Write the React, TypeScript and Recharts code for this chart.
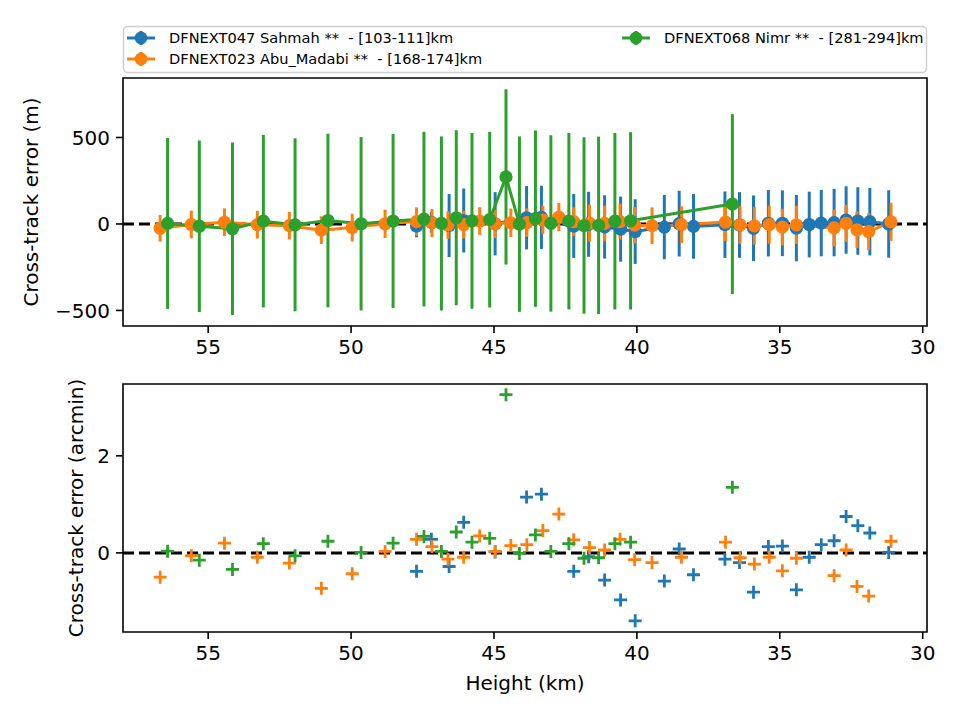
import React from 'react';
import {
  ComposedChart,
  Line,
  Scatter,
  XAxis,
  YAxis,
  ErrorBar,
  ReferenceLine,
  ReferenceArea,
} from 'recharts';

const BLUE = '#1f77b4';
const ORANGE = '#ff7f0e';
const GREEN = '#2ca02c';
const FONT = '"DejaVu Sans", sans-serif';

// ---- Sahmah (blue) ----
const sahmahHeight = [47.71, 47.19, 46.57, 46.06, 44.96, 43.86, 43.34, 42.21, 41.69, 41.13, 40.57, 40.06, 39.04, 38.52, 38.02, 36.92, 36.41, 35.92, 35.4, 34.91, 34.42, 33.97, 33.55, 33.1, 32.68, 32.27, 31.85, 31.19];
const sahmahMeters = [-12, 9, -9, 20, 1, 36, 38, -12, -2, -17, -30, -44, -18, 2, -14, -4, -6, -25, 4, 4, -24, -3, 5, 8, 23, 17, 13, 0];
const sahmahErr = [65, 60, 182, 185, 183, 183, 183, 185, 188, 183, 188, 187, 186, 190, 187, 192, 190, 190, 192, 190, 192, 190, 192, 195, 195, 195, 195, 195];
const sahmahArcmin = [-0.38, 0.28, -0.28, 0.63, 0.02, 1.15, 1.21, -0.38, -0.08, -0.56, -0.97, -1.4, -0.58, 0.08, -0.45, -0.13, -0.2, -0.81, 0.13, 0.14, -0.76, -0.09, 0.17, 0.25, 0.75, 0.56, 0.41, 0.01];

// ---- Abu_Madabi (orange) ----
const abuHeight = [56.68, 55.59, 54.43, 53.28, 52.16, 51.04, 49.96, 48.81, 47.71, 47.17, 46.61, 46.06, 45.5, 44.96, 44.41, 43.85, 43.29, 42.73, 42.21, 41.66, 41.13, 40.59, 40.08, 39.47, 38.44, 36.9, 36.39, 35.89, 35.37, 34.91, 34.42, 33.1, 32.68, 32.3, 31.89, 31.11];
const abuMeters = [-25, -3, 10, -4, -10, -36, -21, 1, 14, 6, -6, -4, 17, 1, 7, 8, 23, 40, 13, 5, 3, 14, -7, -10, -4, 11, -5, -11, -4, -18, -5, -23, 3, -34, -44, 12];
const abuErr = [77, 80, 80, 80, 80, 80, 80, 82, 82, 81, 80, 80, 80, 82, 82, 82, 82, 82, 83, 107, 103, 103, 105, 106, 106, 109, 110, 108, 110, 106, 110, 107, 107, 106, 107, 110];
const abuArcmin = [-0.5, -0.06, 0.2, -0.09, -0.21, -0.73, -0.43, 0.03, 0.28, 0.13, -0.13, -0.09, 0.35, 0.03, 0.15, 0.17, 0.46, 0.8, 0.27, 0.11, 0.06, 0.28, -0.14, -0.2, -0.09, 0.22, -0.1, -0.23, -0.09, -0.37, -0.11, -0.47, 0.06, -0.69, -0.89, 0.24];

// ---- Nimr (green) ----
const nimrHeight = [56.42, 55.31, 54.15, 53.07, 51.96, 50.81, 49.65, 48.53, 47.45, 46.84, 46.32, 45.77, 45.15, 44.58, 44.11, 43.55, 43.01, 42.38, 41.85, 41.34, 40.77, 40.22, 36.66];
const nimrMeters = [3, -13, -28, 16, -5, 20, 1, 17, 28, 3, 36, 18, 25, 272, -1, 31, 3, 16, -9, -8, 16, 18, 115];
const nimrErr = [494, 496, 499, 499, 500, 502, 501, 503, 505, 503, 506, 508, 508, 507, 507, 510, 510, 510, 510, 513, 510, 513, 520];
const nimrArcmin = [0.035, -0.15, -0.34, 0.19, -0.06, 0.24, 0.01, 0.2, 0.34, 0.03, 0.43, 0.22, 0.3, 3.26, -0.01, 0.37, 0.03, 0.19, -0.11, -0.1, 0.19, 0.22, 1.35];

// ---- axes ----
const heightDomain: [number, number] = [29.85, 57.98];
const heightTicks = [30, 35, 40, 45, 50, 55];
const meterDomain: [number, number] = [-590, 844];
const meterTicks = [-500, 0, 500];
const arcminDomain: [number, number] = [-1.63, 3.48];
const arcminTicks = [0, 2];

const legendLabels = [
  'DFNEXT047 Sahmah **  - [103-111]km',
  'DFNEXT023 Abu_Madabi **  - [168-174]km',
  'DFNEXT068 Nimr **  - [281-294]km',
];

const withErr = (h: number[], v: number[], e: number[]) =>
  h.map((x, i) => ({ h: x, v: v[i], e: e[i] }));
const plain = (h: number[], v: number[]) => h.map((x, i) => ({ h: x, v: v[i] }));

const sahmahTop = withErr(sahmahHeight, sahmahMeters, sahmahErr);
const abuTop = withErr(abuHeight, abuMeters, abuErr);
const nimrTop = withErr(nimrHeight, nimrMeters, nimrErr);
const sahmahBot = plain(sahmahHeight, sahmahArcmin);
const abuBot = plain(abuHeight, abuArcmin);
const nimrBot = plain(nimrHeight, nimrArcmin);

const fmt = (v: number) => (v < 0 ? '\u2212' + Math.abs(v) : String(v));

const tickStyle = { fill: '#000', fontSize: 20, fontFamily: FONT };
const tickLine = { stroke: '#000', strokeWidth: 1.6 };

const plusShape = (color: string) => (props: any) => {
  const { cx, cy } = props;
  if (cx == null || cy == null) return <g />;
  return (
    <path
      d={`M${cx - 6.5},${cy}H${cx + 6.5}M${cx},${cy - 6.5}V${cy + 6.5}`}
      stroke={color}
      strokeWidth={2.8}
      fill="none"
    />
  );
};

const series = [
  { top: sahmahTop, bot: sahmahBot, color: BLUE },
  { top: abuTop, bot: abuBot, color: ORANGE },
  { top: nimrTop, bot: nimrBot, color: GREEN },
];

export default function App() {
  return (
    <div style={{ position: 'absolute', left: 0, top: 0, width: 960, height: 720, background: '#fff', fontFamily: FONT }}>
      <div style={{ position: 'absolute', left: 0, top: 0 }}>
        <ComposedChart width={960} height={360} margin={{ top: 78, right: 33, bottom: 0, left: 0 }}>
          <XAxis
            dataKey="h"
            type="number"
            domain={heightDomain}
            ticks={heightTicks}
            reversed
            allowDataOverflow
            height={34}
            tick={tickStyle}
            tickLine={tickLine}
            tickSize={7}
            tickMargin={7}
            axisLine={false}
          />
          <YAxis
            type="number"
            domain={meterDomain}
            ticks={meterTicks}
            allowDataOverflow
            width={123}
            tick={tickStyle}
            tickLine={tickLine}
            tickSize={7}
            tickMargin={6}
            tickFormatter={fmt}
            axisLine={false}
          />
          <ReferenceLine y={0} stroke="#000" strokeWidth={3} strokeDasharray="11 5" />
          {series.map((s, i) => (
            <Line
              key={i}
              data={s.top}
              dataKey="v"
              type="linear"
              stroke={s.color}
              strokeWidth={3}
              dot={{ r: 6.6, fill: s.color, stroke: 'none' }}
              activeDot={false}
              isAnimationActive={false}
            >
              <ErrorBar dataKey="e" direction="y" width={0} stroke={s.color} strokeWidth={3} />
            </Line>
          ))}
          <ReferenceArea
            x1={heightDomain[0]}
            x2={heightDomain[1]}
            y1={meterDomain[0]}
            y2={meterDomain[1]}
            fill="none"
            stroke="#000"
            strokeWidth={1.6}
            ifOverflow="visible"
          />
        </ComposedChart>
      </div>
      <div style={{ position: 'absolute', left: 0, top: 360 }}>
        <ComposedChart width={960} height={360} margin={{ top: 24, right: 33, bottom: 54, left: 0 }}>
          <XAxis
            dataKey="h"
            type="number"
            domain={heightDomain}
            ticks={heightTicks}
            reversed
            allowDataOverflow
            height={34}
            tick={tickStyle}
            tickLine={tickLine}
            tickSize={7}
            tickMargin={7}
            axisLine={false}
          />
          <YAxis
            type="number"
            domain={arcminDomain}
            ticks={arcminTicks}
            allowDataOverflow
            width={123}
            tick={tickStyle}
            tickLine={tickLine}
            tickSize={7}
            tickMargin={6}
            tickFormatter={fmt}
            axisLine={false}
          />
          <ReferenceLine y={0} stroke="#000" strokeWidth={3} strokeDasharray="11 5" />
          {series.map((s, i) => (
            <Scatter
              key={i}
              data={s.bot}
              dataKey="v"
              fill={s.color}
              shape={plusShape(s.color)}
              isAnimationActive={false}
            />
          ))}
          <ReferenceArea
            x1={heightDomain[0]}
            x2={heightDomain[1]}
            y1={arcminDomain[0]}
            y2={arcminDomain[1]}
            fill="none"
            stroke="#000"
            strokeWidth={1.6}
            ifOverflow="visible"
          />
        </ComposedChart>
      </div>
      <svg
        width={960}
        height={720}
        style={{ position: 'absolute', left: 0, top: 0, pointerEvents: 'none' }}
      >
        <text
          transform="translate(38,202) rotate(-90)"
          textAnchor="middle"
          fontSize={20}
          fontFamily={FONT}
          fill="#000"
        >
          Cross-track error (m)
        </text>
        <text
          transform="translate(83,508) rotate(-90)"
          textAnchor="middle"
          fontSize={20}
          fontFamily={FONT}
          fill="#000"
        >
          Cross-track error (arcmin)
        </text>
        <text x={525} y={690} textAnchor="middle" fontSize={20} fontFamily={FONT} fill="#000">
          Height (km)
        </text>
        <rect x={123.5} y={26.5} width={803} height={46} rx={4} fill="#fff" fillOpacity={0.8} stroke="#d0d0d0" strokeWidth={1.5} />
        {[
          { x: 127, y: 38, color: BLUE, label: legendLabels[0] },
          { x: 127, y: 59, color: ORANGE, label: legendLabels[1] },
          { x: 622, y: 38, color: GREEN, label: legendLabels[2] },
        ].map((e, i) => (
          <g key={i}>
            <line x1={e.x} y1={e.y} x2={e.x + 28} y2={e.y} stroke={e.color} strokeWidth={3} />
            <line x1={e.x + 14} y1={e.y - 7} x2={e.x + 14} y2={e.y + 7} stroke={e.color} strokeWidth={3} />
            <circle cx={e.x + 14} cy={e.y} r={6.4} fill={e.color} />
            <text
              x={e.x + 42}
              y={e.y + 5.2}
              fontSize={14.6}
              fontFamily={FONT}
              fill="#000"
              xmlSpace="preserve"
              style={{ whiteSpace: 'pre' }}
            >
              {e.label}
            </text>
          </g>
        ))}
      </svg>
    </div>
  );
}
